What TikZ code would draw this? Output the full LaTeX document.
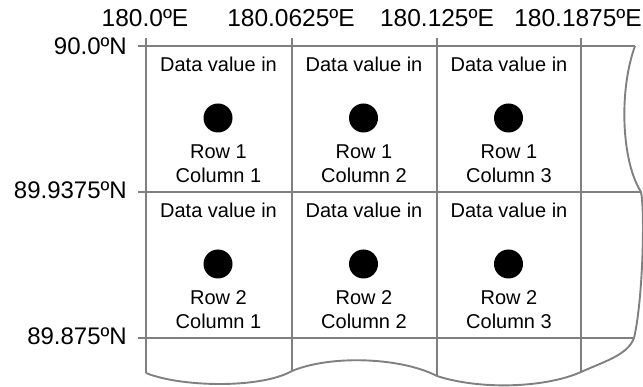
\documentclass[tikz,border=0pt]{standalone}
\usepackage{fontspec}
\setmainfont{Liberation Sans}
\begin{document}
\begin{tikzpicture}[x=1pt,y=-1pt,
  gridline/.style={draw=black!50, line width=1.9pt},
  celltext/.style={font=\fontsize{20}{24}\selectfont, anchor=base, inner sep=0pt},
  toplabel/.style={font=\fontsize{24.5}{28}\selectfont, anchor=base, inner sep=0pt},
  leftlabel/.style={font=\fontsize{24}{28}\selectfont, anchor=base east, inner sep=0pt},
  datadot/.style={circle, fill=black, minimum size=29pt, inner sep=0pt}]
\useasboundingbox (0,0) rectangle (643,387);
% coordinates
\coordinate (tl) at (138,46);
\coordinate (tr) at (635,46);
\coordinate (m1l) at (138,192);
\coordinate (m1r) at (641,192);
\coordinate (m2l) at (138,338);
\coordinate (m2r) at (634,338);
\coordinate (b4) at (581,372);
\coordinate (b3) at (437,376);
\coordinate (b2) at (292,371);
\coordinate (b1) at (146,373);
% horizontal lines
\draw[gridline] (tl) -- (tr);
\draw[gridline] (m1l) -- (m1r);
\draw[gridline] (m2l) -- (m2r);
% vertical lines
\draw[gridline] (146,38) -- (b1);
\draw[gridline] (292,38) -- (b2);
\draw[gridline] (437,38) -- (b3);
\draw[gridline] (581,38) -- (b4);
% torn outline
\draw[gridline, line join=round] (tr) .. controls (619,90) and (621,160) .. (m1r)
  .. controls (645,210) and (643,300) .. (m2r)
  .. controls (628,355) and (603,362) .. (b4)
  .. controls (545,388) and (480,390) .. (b3)
  .. controls (400,357) and (330,355) .. (b2)
  .. controls (260,389) and (180,387) .. (b1);
% top labels
\node[toplabel] (e1) at (145,27) {180.0ºE};
\node[toplabel] (e2) at (291,27) {180.0625ºE};
\node[toplabel] (e3) at (437,27) {180.125ºE};
\node[toplabel, anchor=base east] (e4) at (642,27) {180.1875ºE};
% left labels
\node[leftlabel] (n1) at (127,55) {90.0ºN};
\node[leftlabel] (n2) at (127,199) {89.9375ºN};
\node[leftlabel] (n3) at (127,345) {89.875ºN};
% cells
\foreach \c/\x in {1/218.5,2/364,3/509}{
  \foreach \r/\y in {1/0,2/146}{
    \node[celltext] (dv\r\c) at (\x,72+\y) {Data value in};
    \node[datadot] (dot\r\c) at (\x-0.5,118+\y) {};
    \node[celltext] (row\r\c) at (\x,159+\y) {Row \r};
    \node[celltext] (col\r\c) at (\x,183+\y) {Column \c};
  }
}
\end{tikzpicture}
\end{document}
